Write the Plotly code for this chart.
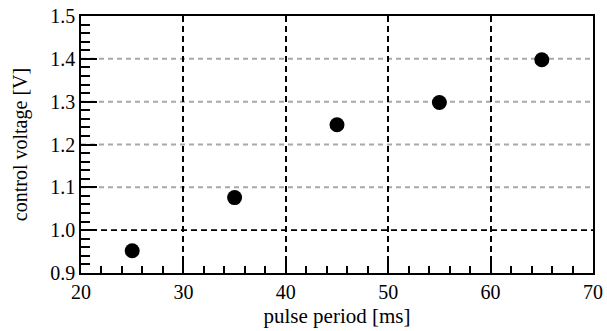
import plotly.graph_objects as go

# Measured control voltage versus pulse period
pulse_period_ms = [25, 35, 45, 55, 65]
control_voltage_v = [0.952, 1.076, 1.246, 1.298, 1.398]

x_ticks = [20, 30, 40, 50, 60, 70]
y_ticks = [0.9, 1.0, 1.1, 1.2, 1.3, 1.4, 1.5]
y_tick_text = ["0.9", "1.0", "1.1", "1.2", "1.3", "1.4", "1.5"]
y_grid_gray = [1.1, 1.2, 1.3, 1.4]
y_grid_black = [1.0]

FONT = "Liberation Serif, Times New Roman, serif"

fig = go.Figure()
fig.add_trace(go.Scatter(
    x=pulse_period_ms,
    y=control_voltage_v,
    mode="markers",
    marker=dict(color="black", size=15),
    showlegend=False,
))

# Horizontal dashed grid: grey lines, plus a black one at 1.0
for yv in y_grid_gray:
    fig.add_shape(type="line", xref="paper", x0=0, x1=1, yref="y", y0=yv, y1=yv,
                  line=dict(color="#a8a8a8", width=2, dash="5px,4px"), layer="below")
for yv in y_grid_black:
    fig.add_shape(type="line", xref="paper", x0=0, x1=1, yref="y", y0=yv, y1=yv,
                  line=dict(color="black", width=1.6, dash="6px,4px"), layer="below")

fig.update_xaxes(
    range=[20, 70],
    tickvals=x_ticks,
    ticks="inside", ticklen=13, tickwidth=1.5, tickcolor="black",
    showline=True, linecolor="black", linewidth=1.5, mirror=True,
    showgrid=True, gridcolor="black", gridwidth=1.6, griddash="6px,4px",
    zeroline=False, automargin=False,
    minor=dict(dtick=2, ticks="inside", ticklen=7, tickwidth=1.5, tickcolor="black", showgrid=False),
    tickfont=dict(family=FONT, size=20, color="black"),
    title=dict(text="pulse period [ms]", font=dict(family=FONT, size=21, color="black"), standoff=7),
)
fig.update_yaxes(
    range=[0.9, 1.5],
    tickvals=y_ticks, ticktext=y_tick_text,
    ticks="inside", ticklen=16, tickwidth=1.5, tickcolor="black",
    showline=True, linecolor="black", linewidth=1.5, mirror=True,
    showgrid=False,
    zeroline=False, automargin=False,
    minor=dict(dtick=0.02, ticks="inside", ticklen=9, tickwidth=1.5, tickcolor="black", showgrid=False),
    tickfont=dict(family=FONT, size=20, color="black"),
    title=dict(text="control voltage [V]", font=dict(family=FONT, size=20, color="black"), standoff=17),
)

fig.update_layout(
    width=607, height=331,
    margin=dict(l=81, r=14, t=16, b=58),
    paper_bgcolor="white", plot_bgcolor="white",
)

fig.write_html("out.html")
